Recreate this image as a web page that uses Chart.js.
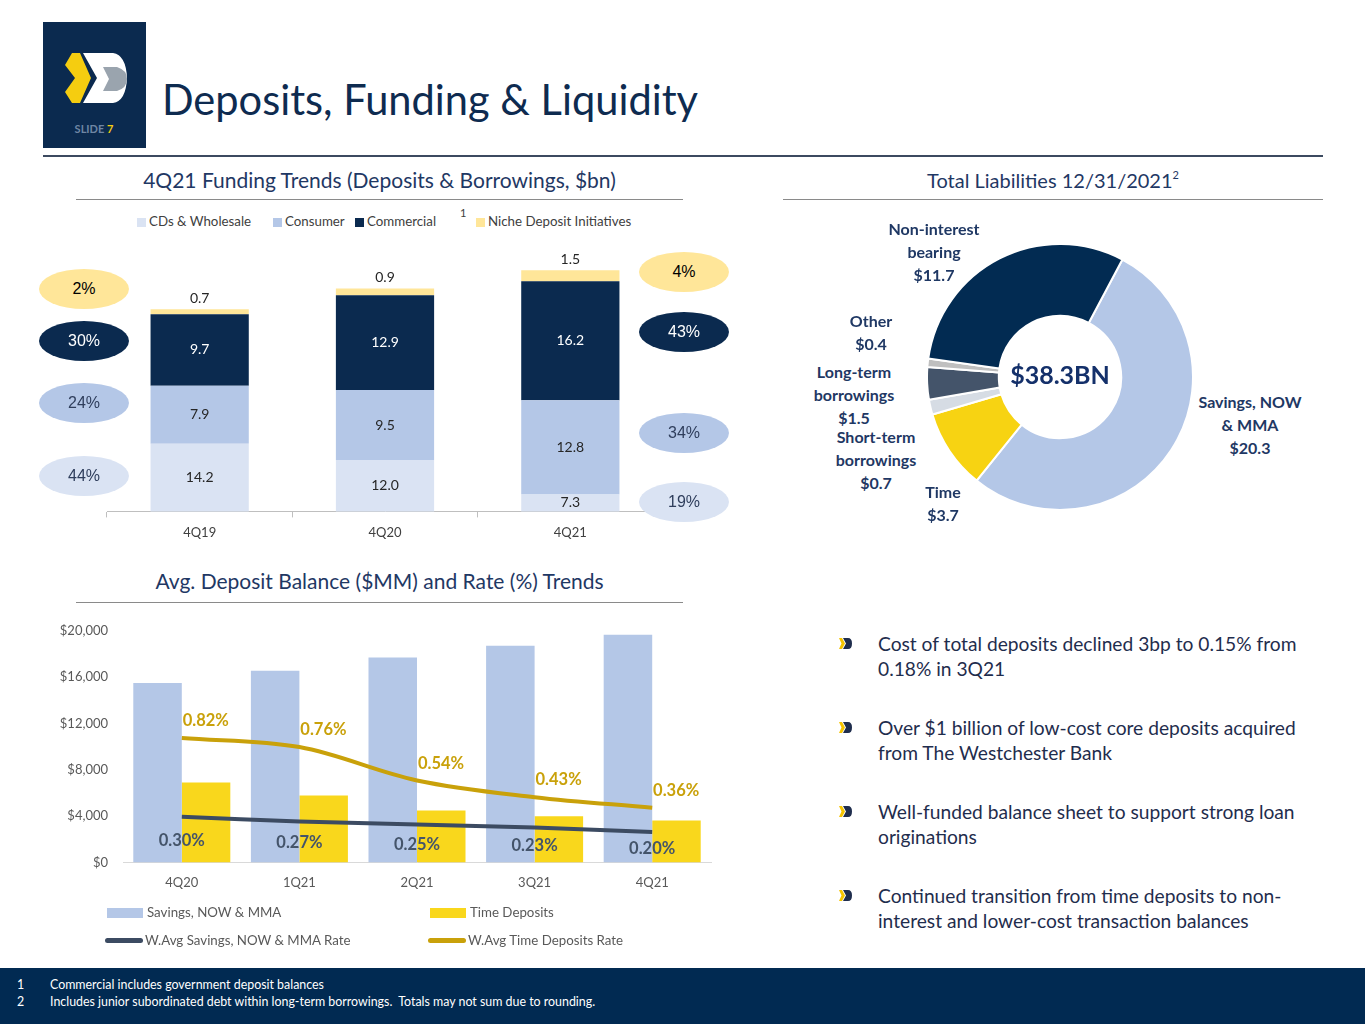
<!DOCTYPE html>
<html>
<head>
<meta charset="utf-8">
<script src="https://cdn.jsdelivr.net/npm/chart.js@4.4.1/dist/chart.umd.min.js"></script>
<style>
  body { margin: 0; width: 1365px; height: 1024px; position: relative; overflow: hidden; background: #fff; font-family: Lato, "Open Sans", sans-serif; }
  .abs { position: absolute; }
  .title { left: 162px; top: 74px; font-size: 41.6px; line-height: 50px; color: #0e2b50; white-space: nowrap; }
  .sect { font-size: 21px; line-height: 24px; color: #1f3864; text-align: center; white-space: nowrap; }
  .rule { height: 1px; background: #8a8a8a; }
  .leg { font-size: 13.3px; color: #404040; white-space: nowrap; line-height: 16px; }
  .sq { display: inline-block; width: 9px; height: 9px; margin-right: 3px; vertical-align: -1px; }
  .pill { width: 90px; height: 40px; border-radius: 50%; font-family: "Liberation Sans", Arial, sans-serif; font-size: 16px; line-height: 40px; text-align: center; }
  .dl { font-size: 16px; font-weight: bold; line-height: 23px; color: #1f3864; text-align: center; white-space: nowrap; transform: translateX(-50%); }
  .bul { left: 878px; font-size: 19.2px; line-height: 25px; color: #1f2d4d; white-space: nowrap; }
  .ico { left: 839px; }
  .bleg { font-size: 13.3px; color: #595959; white-space: nowrap; line-height: 16px; }
  .foot { left: 0; top: 968px; width: 1365px; height: 56px; background: #012a52; }
  .ft { font-size: 12.4px; color: #fff; line-height: 17px; white-space: nowrap; }
</style>
</head>
<body>

<!-- logo -->
<svg class="abs" style="left:43px;top:22px" width="103" height="126">
  <rect width="103" height="126" fill="#0b2a4f"/>
  <path d="M29,31 L37,31 L48,56 L37,81 L29,81 L22,70 L32,56 L22,43 Z" fill="#f5cd10"/>
  <path d="M40,31 L70,31 Q83,33 84,56 Q83,79 70,81 L40,81 L54,56 Z" fill="#ffffff"/>
  <path d="M60,45 L74,45 Q84,48 84,57 Q84,66 74,69 L60,69 L66,57 Z" fill="#9aa4ae"/>
  <text x="51" y="111" text-anchor="middle" font-family="Lato" font-size="11" font-weight="bold" fill="#6f86a4">SLIDE <tspan fill="#f5cd10">7</tspan></text>
</svg>

<div class="abs title">Deposits, Funding &amp; Liquidity</div>
<div class="abs" style="left:43px;top:155px;width:1280px;height:2px;background:#3c4a60"></div>

<div class="abs sect" style="left:76px;top:168px;width:607px">4Q21 Funding Trends (Deposits &amp; Borrowings, $bn)</div>
<div class="abs rule" style="left:76px;top:199px;width:607px"></div>

<div class="abs sect" style="left:783px;top:168px;width:540px;font-size:20px">Total Liabilities 12/31/2021<span style="position:relative;top:-9px;font-size:11px">2</span></div>
<div class="abs rule" style="left:783px;top:199px;width:540px"></div>

<div class="abs sect" style="left:76px;top:569px;width:607px">Avg. Deposit Balance ($MM) and Rate (%) Trends</div>
<div class="abs rule" style="left:76px;top:602px;width:607px"></div>

<!-- top legend -->
<div class="abs leg" style="left:137px;top:213px"><span class="sq" style="background:#dae3f3"></span>CDs &amp; Wholesale</div>
<div class="abs leg" style="left:273px;top:213px"><span class="sq" style="background:#b4c7e7"></span>Consumer</div>
<div class="abs leg" style="left:355px;top:213px"><span class="sq" style="background:#0b2a4f"></span>Commercial</div>
<div class="abs leg" style="left:460px;top:205px;font-size:11px">1</div>
<div class="abs leg" style="left:476px;top:213px"><span class="sq" style="background:#ffe699"></span>Niche Deposit Initiatives</div>

<canvas id="fundChart" class="abs" style="left:76px;top:236px" width="620" height="313"></canvas>

<!-- share pills -->
<div class="abs pill" style="left:39px;top:269px;background:#ffe699;color:#000">2%</div>
<div class="abs pill" style="left:39px;top:321px;background:#0b2a4f;color:#fff">30%</div>
<div class="abs pill" style="left:39px;top:383px;background:#b4c7e7;color:#2f3e5c">24%</div>
<div class="abs pill" style="left:39px;top:456px;background:#dae3f3;color:#2f3e5c">44%</div>
<div class="abs pill" style="left:639px;top:252px;background:#ffe699;color:#000">4%</div>
<div class="abs pill" style="left:639px;top:312px;background:#0b2a4f;color:#fff">43%</div>
<div class="abs pill" style="left:639px;top:413px;background:#b4c7e7;color:#2f3e5c">34%</div>
<div class="abs pill" style="left:639px;top:482px;background:#dae3f3;color:#2f3e5c">19%</div>

<!-- donut -->
<canvas id="liabChart" class="abs" style="left:926px;top:243px" width="268" height="268"></canvas>
<div class="abs" style="left:960px;top:358px;width:200px;text-align:center;font-size:25px;font-weight:bold;color:#14306a;line-height:32px">$38.3BN</div>
<div class="abs dl" style="left:934px;top:217px">Non-interest<br>bearing<br>$11.7</div>
<div class="abs dl" style="left:871px;top:309px">Other<br>$0.4</div>
<div class="abs dl" style="left:854px;top:360px">Long-term<br>borrowings<br>$1.5</div>
<div class="abs dl" style="left:876px;top:425px">Short-term<br>borrowings<br>$0.7</div>
<div class="abs dl" style="left:943px;top:480px">Time<br>$3.7</div>
<div class="abs dl" style="left:1250px;top:390px">Savings, NOW<br>&amp; MMA<br>$20.3</div>

<!-- bottom chart -->
<canvas id="rateChart" class="abs" style="left:58px;top:608px" width="660" height="298"></canvas>
<div class="abs bleg" style="left:107px;top:904px"><span style="display:inline-block;width:36px;height:10px;background:#b4c7e7;margin-right:4px;vertical-align:-1px"></span>Savings, NOW &amp; MMA</div>
<div class="abs bleg" style="left:430px;top:904px"><span style="display:inline-block;width:36px;height:10px;background:#f9d71c;margin-right:4px;vertical-align:-1px"></span>Time Deposits</div>
<div class="abs bleg" style="left:105px;top:932px"><span style="display:inline-block;width:38px;height:5px;border-radius:3px;background:#3c4b62;margin-right:2px;vertical-align:2px"></span>W.Avg Savings, NOW &amp; MMA Rate</div>
<div class="abs bleg" style="left:428px;top:932px"><span style="display:inline-block;width:38px;height:5px;border-radius:3px;background:#c9a10a;margin-right:2px;vertical-align:2px"></span>W.Avg Time Deposits Rate</div>

<!-- bullets -->
<svg class="abs ico" style="top:637px" width="13" height="13"><path d="M0,1 L3,1 L6,6.5 L3,12 L0,12 L2.5,6.5Z" fill="#f5c400"/><path d="M4,1 L9,1 Q13,1 13,6.5 Q13,12 9,12 L4,12 L7,6.5Z" fill="#1f2d4d"/></svg>
<div class="abs bul" style="top:631px">Cost of total deposits declined 3bp to 0.15% from<br>0.18% in 3Q21</div>
<svg class="abs ico" style="top:721px" width="13" height="13"><path d="M0,1 L3,1 L6,6.5 L3,12 L0,12 L2.5,6.5Z" fill="#f5c400"/><path d="M4,1 L9,1 Q13,1 13,6.5 Q13,12 9,12 L4,12 L7,6.5Z" fill="#1f2d4d"/></svg>
<div class="abs bul" style="top:715px">Over $1 billion of low-cost core deposits acquired<br>from The Westchester Bank</div>
<svg class="abs ico" style="top:805px" width="13" height="13"><path d="M0,1 L3,1 L6,6.5 L3,12 L0,12 L2.5,6.5Z" fill="#f5c400"/><path d="M4,1 L9,1 Q13,1 13,6.5 Q13,12 9,12 L4,12 L7,6.5Z" fill="#1f2d4d"/></svg>
<div class="abs bul" style="top:799px">Well-funded balance sheet to support strong loan<br>originations</div>
<svg class="abs ico" style="top:889px" width="13" height="13"><path d="M0,1 L3,1 L6,6.5 L3,12 L0,12 L2.5,6.5Z" fill="#f5c400"/><path d="M4,1 L9,1 Q13,1 13,6.5 Q13,12 9,12 L4,12 L7,6.5Z" fill="#1f2d4d"/></svg>
<div class="abs bul" style="top:883px">Continued transition from time deposits to non-<br>interest and lower-cost transaction balances</div>

<!-- footer -->
<div class="abs foot"></div>
<div class="abs ft" style="left:17px;top:976px">1</div>
<div class="abs ft" style="left:50px;top:976px">Commercial includes government deposit balances</div>
<div class="abs ft" style="left:17px;top:993px">2</div>
<div class="abs ft" style="left:50px;top:993px">Includes junior subordinated debt within long-term borrowings.&nbsp; Totals may not sum due to rounding.</div>

<script>
// funding trends ($bn)
const fundQuarters = ["4Q19", "4Q20", "4Q21"];
const cdsWholesale = [14.2, 12.0, 7.3];
const consumer = [7.9, 9.5, 12.8];
const commercial = [9.7, 12.9, 16.2];
const niche = [0.7, 0.9, 1.5];

// total liabilities 12/31/2021 ($bn)
const liabLabels = ["Savings, NOW & MMA", "Time", "Short-term borrowings", "Long-term borrowings", "Other", "Non-interest bearing"];
const liabValues = [20.3, 3.7, 0.7, 1.5, 0.4, 11.7];

// avg deposit balance ($MM) and rate (%)
const rateQuarters = ["4Q20", "1Q21", "2Q21", "3Q21", "4Q21"];
const savingsBal = [15500, 16550, 17700, 18700, 19650];
const timeBal = [6900, 5780, 4480, 3990, 3620];
const savingsRate = [0.30, 0.27, 0.25, 0.23, 0.20];
const timeRate = [0.82, 0.76, 0.54, 0.43, 0.36];
const balTicks = [0, 4000, 8000, 12000, 16000, 20000];

Chart.defaults.font.family = "Lato";

const stackLabels = {
	id: "stackLabels",
	afterDatasetsDraw(chart) {
		const { ctx, chartArea } = chart;
		ctx.save();
		ctx.font = "14px Lato";
		ctx.textAlign = "center";
		ctx.textBaseline = "middle";
		chart.data.datasets.forEach((ds, i) => {
			chart.getDatasetMeta(i).data.forEach((bar, j) => {
				const bottom = Math.min(bar.base, chartArea.bottom);
				let y = (bar.y + bottom) / 2;
				if (i === 3) y = bar.y - 11;
				ctx.fillStyle = i === 2 ? "#ffffff" : "#262626";
				ctx.fillText(ds.data[j].toFixed(1), bar.x, y);
			});
		});
		ctx.restore();
	},
};

new Chart(document.getElementById("fundChart"), {
	type: "bar",
	data: {
		labels: fundQuarters,
		datasets: [
			{ label: "CDs & Wholesale", data: cdsWholesale, backgroundColor: "#dae3f3" },
			{ label: "Consumer", data: consumer, backgroundColor: "#b4c7e7" },
			{ label: "Commercial", data: commercial, backgroundColor: "#0b2a4f" },
			{ label: "Niche Deposit Initiatives", data: niche, backgroundColor: "#ffe699" },
		],
	},
	options: {
		responsive: false,
		animation: false,
		layout: { padding: { left: 31, right: 33, top: 18, bottom: 0 } },
		datasets: { bar: { barPercentage: 0.53, categoryPercentage: 1 } },
		plugins: { legend: { display: false }, tooltip: { enabled: false } },
		scales: {
			x: {
				stacked: true,
				grid: { display: true, drawOnChartArea: false, tickLength: 6, color: "#bfbfbf" },
				border: { color: "#bfbfbf" },
				ticks: { color: "#404040", font: { size: 13 }, padding: 8 },
			},
			y: { stacked: true, display: false, min: 5, max: 40 },
		},
	},
	plugins: [stackLabels],
});

new Chart(document.getElementById("liabChart"), {
	type: "doughnut",
	data: {
		labels: liabLabels,
		datasets: [
			{
				data: liabValues,
				backgroundColor: ["#b4c7e7", "#f7d312", "#d6dce4", "#44546a", "#bfbfbf", "#022b52"],
				borderColor: "#ffffff",
				borderWidth: 2,
			},
		],
	},
	options: {
		responsive: false,
		animation: false,
		rotation: 28,
		cutout: "46%",
		plugins: { legend: { display: false }, tooltip: { enabled: false } },
	},
});

const rateLabels = {
	id: "rateLabels",
	afterDatasetsDraw(chart) {
		const { ctx, chartArea } = chart;
		ctx.save();
		ctx.font = "bold 16.5px Lato";
		ctx.textAlign = "center";
		ctx.textBaseline = "middle";
		chart.getDatasetMeta(2).data.forEach((pt, j) => {
			ctx.fillStyle = "#44546a";
			ctx.fillText(savingsRate[j].toFixed(2) + "%", pt.x, (pt.y + chartArea.bottom) / 2 + 1);
		});
		chart.getDatasetMeta(3).data.forEach((pt, j) => {
			ctx.fillStyle = "#c9a10a";
			ctx.fillText(timeRate[j].toFixed(2) + "%", pt.x + 24, pt.y - 17);
		});
		ctx.restore();
	},
};

new Chart(document.getElementById("rateChart"), {
	type: "bar",
	data: {
		labels: rateQuarters,
		datasets: [
			{ label: "Savings, NOW & MMA", data: savingsBal, backgroundColor: "#b4c7e7", order: 2 },
			{ label: "Time Deposits", data: timeBal, backgroundColor: "#f9d71c", order: 2 },
			{
				type: "line",
				label: "W.Avg Savings, NOW & MMA Rate",
				data: savingsRate,
				yAxisID: "y1",
				borderColor: "#3c4b62",
				borderWidth: 4,
				pointRadius: 0,
				tension: 0.35,
				order: 1,
			},
			{
				type: "line",
				label: "W.Avg Time Deposits Rate",
				data: timeRate,
				yAxisID: "y1",
				borderColor: "#c9a10a",
				borderWidth: 4,
				pointRadius: 0,
				tension: 0.35,
				order: 1,
			},
		],
	},
	options: {
		responsive: false,
		animation: false,
		layout: { padding: { left: 0, right: 7, top: 12, bottom: 2 } },
		datasets: { bar: { barPercentage: 1, categoryPercentage: 0.825 } },
		plugins: { legend: { display: false }, tooltip: { enabled: false } },
		scales: {
			x: {
				grid: { display: false, drawTicks: false },
				border: { color: "#d9d9d9" },
				ticks: { color: "#595959", font: { size: 13 }, padding: 13 },
			},
			y: {
				min: 0,
				max: 20000,
				afterBuildTicks: s => { s.ticks = balTicks.map(v => ({ value: v })); },
				afterFit: s => { s.width = 65; },
				grid: { display: false, drawTicks: false },
				border: { display: false },
				ticks: {
					color: "#595959",
					font: { size: 13 },
					padding: 15,
					callback: v => "$" + v.toLocaleString("en-US"),
				},
			},
			y1: { display: false, min: 0, max: 1.526, position: "right" },
		},
	},
	plugins: [rateLabels],
});
</script>
</body>
</html>
